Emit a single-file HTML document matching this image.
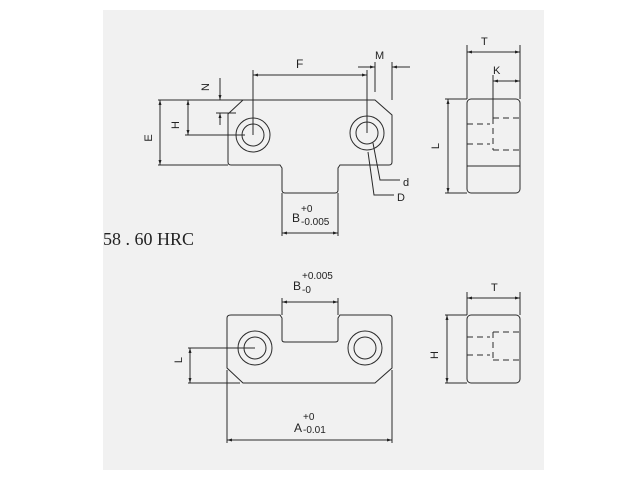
<!DOCTYPE html>
<html><head><meta charset="utf-8"><style>
html,body{margin:0;padding:0;background:#fff;width:640px;height:480px;overflow:hidden}
svg{display:block}
text{font-family:"Liberation Sans",sans-serif;fill:#222}
</style></head><body>
<svg width="640" height="480" viewBox="0 0 640 480">
<defs>
<marker id="a" viewBox="0 0 10 10" refX="10" refY="5" markerWidth="6" markerHeight="5" orient="auto-start-reverse"><path d="M0,2 L10,5 L0,8z" fill="#222"/></marker>
</defs>
<rect x="103" y="10" width="441" height="460" fill="#f1f1f1"/>
<g stroke="#2a2a2a" stroke-width="1" fill="none">
<path d="M243,100 L375,100 L392,115 L392,162 Q392,165 389,165 L340,165 L338,168 L338,190 Q338,193 335,193 L285,193 Q282,193 282,190 L282,168 L280,165 L231,165 Q228,165 228,162 L228,114 Z"/>
<circle cx="253" cy="135" r="17"/><circle cx="253" cy="135" r="11"/>
<circle cx="367" cy="133" r="17"/><circle cx="367" cy="133" r="11"/>
<path d="M253,70 V135 M367,70 V133"/>
<path d="M253,75 H367" marker-start="url(#a)" marker-end="url(#a)"/>
<path d="M375,62 V92 M392,62 V100"/>
<path d="M358,67 H375" marker-end="url(#a)"/><path d="M410,67 H392" marker-end="url(#a)"/>
<path d="M158,100 H243 M158,165 H228"/>
<path d="M160,100 V165" marker-start="url(#a)" marker-end="url(#a)"/>
<path d="M185,135 H245"/>
<path d="M188,100 V135" marker-start="url(#a)" marker-end="url(#a)"/>
<path d="M220,78 V100" marker-end="url(#a)"/><path d="M220,125 V113" marker-end="url(#a)"/>
<path d="M216,113 H236"/>
<path d="M282,193 V236 M338,193 V236"/>
<path d="M282,233 H338" marker-start="url(#a)" marker-end="url(#a)"/>
<path d="M373,143 L380,180 H400"/>
<path d="M368,152 L374,195 H394"/>
<rect x="467" y="99" width="53" height="94" rx="4"/>
<path d="M467,166 H520"/>
<path d="M467,45 V99 M520,45 V99"/>
<path d="M467,52 H520" marker-start="url(#a)" marker-end="url(#a)"/>
<path d="M493,75 V118 M520,75 V99"/>
<path d="M493,81 H520" marker-start="url(#a)" marker-end="url(#a)"/>
<path d="M445,99 H467 M445,193 H467"/>
<path d="M448,99 V193" marker-start="url(#a)" marker-end="url(#a)"/>
<g stroke-dasharray="6,4">
<path d="M493,118 H520 M467,124 H490 M467,144 H490 M493,150 H520 M493,118 V150"/>
</g>
<rect x="467" y="315" width="53" height="68" rx="4"/>
<path d="M467,292 V315 M520,292 V315"/>
<path d="M467,298 H520" marker-start="url(#a)" marker-end="url(#a)"/>
<path d="M445,315 H467 M445,383 H467"/>
<path d="M447,315 V383" marker-start="url(#a)" marker-end="url(#a)"/>
<g stroke-dasharray="6,4">
<path d="M493,332 H520 M467,337 H490 M467,355 H490 M493,360 H520 M493,332 V358"/>
</g>
<path d="M231,315 L280,315 L282,318 L282,340 Q282,342 285,342 L335,342 Q338,342 338,340 L338,318 L340,315 L389,315 Q392,315 392,318 L392,368 L375,383 L243,383 L227,368 L227,318 Q227,315 231,315 Z"/>
<circle cx="255" cy="348" r="17"/><circle cx="255" cy="348" r="11"/>
<circle cx="365" cy="348" r="17"/><circle cx="365" cy="348" r="11"/>
<path d="M282,298 V315 M338,298 V315"/>
<path d="M282,302 H338" marker-start="url(#a)" marker-end="url(#a)"/>
<path d="M188,348 H255 M188,383 H240"/>
<path d="M190,348 V383" marker-start="url(#a)" marker-end="url(#a)"/>
<path d="M227,370 V443 M392,370 V443"/>
<path d="M227,440 H392" marker-start="url(#a)" marker-end="url(#a)"/>
</g>
<g font-size="11">
<text x="296" y="68" font-size="12">F</text>
<text x="375" y="59">M</text>
<text transform="translate(152,138) rotate(-90)" text-anchor="middle">E</text>
<text transform="translate(179,125) rotate(-90)" text-anchor="middle">H</text>
<text transform="translate(209,87) rotate(-90)" text-anchor="middle">N</text>
<text x="292" y="222" font-size="12">B</text><text x="301" y="212" font-size="10">+0</text><text x="301" y="225" font-size="10">-0.005</text>
<text x="403" y="186">d</text>
<text x="397" y="201">D</text>
<text x="481" y="45">T</text>
<text x="493" y="74">K</text>
<text transform="translate(439,146) rotate(-90)" text-anchor="middle">L</text>
<text x="491" y="291">T</text>
<text transform="translate(438,355) rotate(-90)" text-anchor="middle">H</text>
<text x="293" y="290" font-size="12">B</text><text x="302" y="279" font-size="10">+0.005</text><text x="302" y="293" font-size="10">-0</text>
<text transform="translate(182,360) rotate(-90)" text-anchor="middle">L</text>
<text x="294" y="432" font-size="12">A</text><text x="303" y="420" font-size="10">+0</text><text x="303" y="433" font-size="10">-0.01</text>
</g>
<text x="103" y="245" style="font-family:'Liberation Serif',serif;font-size:18px">58 . 60 HRC</text>
</svg>
</body></html>
